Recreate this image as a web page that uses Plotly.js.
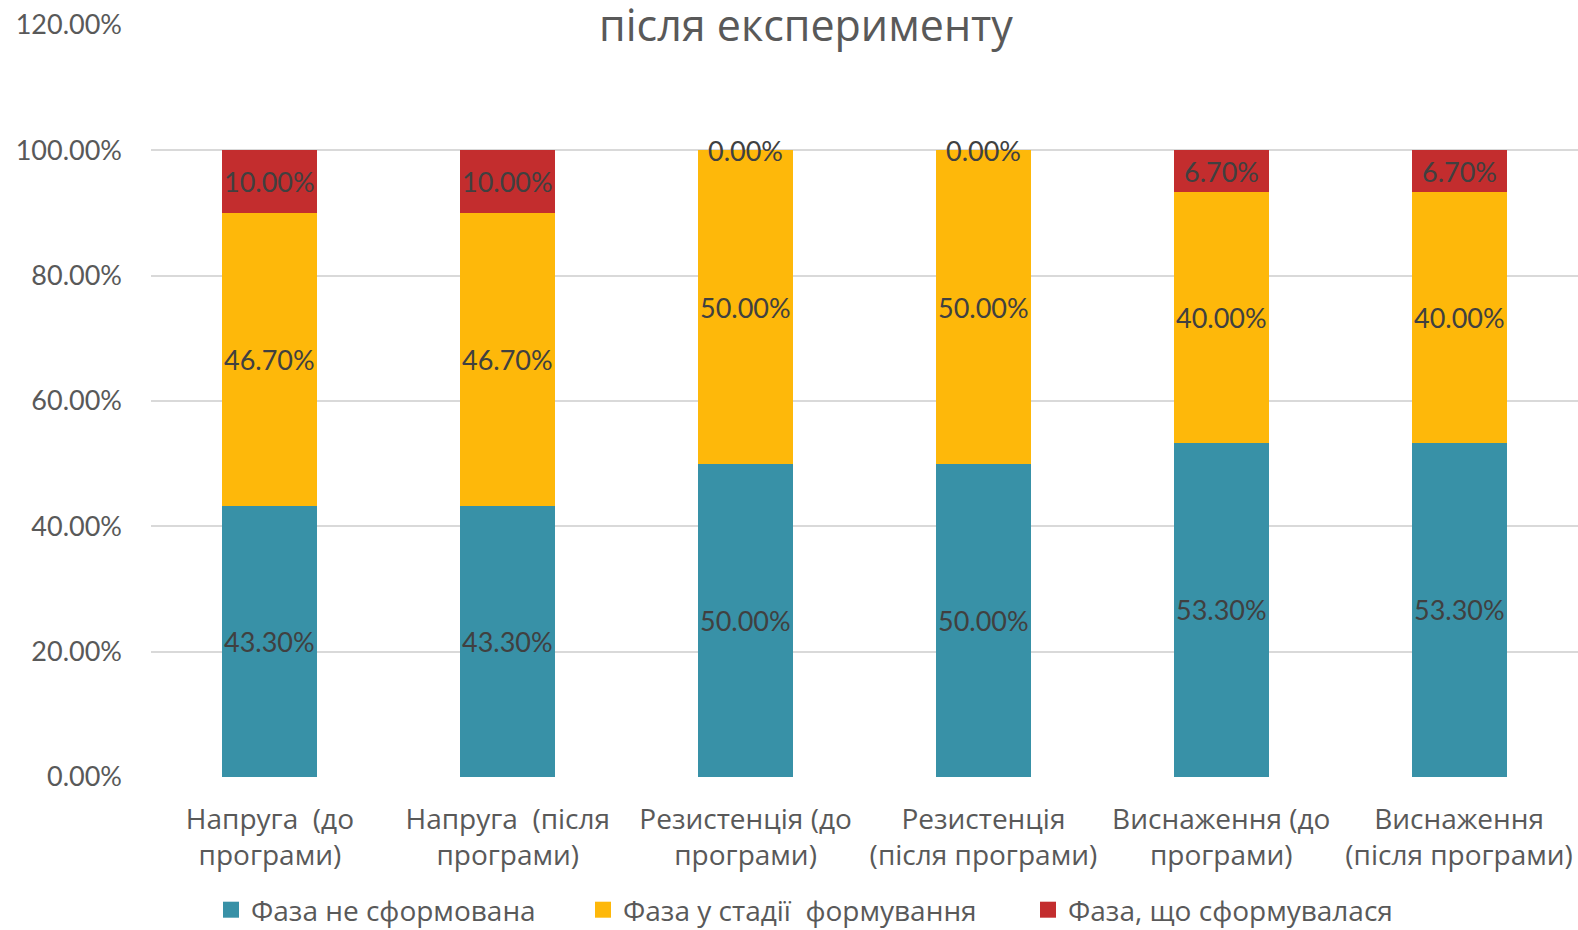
<!DOCTYPE html>
<html>
<head>
<meta charset="utf-8">
<script src="https://cdn.plot.ly/plotly-3.0.1.min.js"></script>
<style>html,body{margin:0;padding:0;background:#fff;}#chart{width:1578px;height:930px;}</style>
</head>
<body>
<div id="chart"></div>
<script>
const categories = [
  "Напруга  (до<br>програми)",
  "Напруга  (після<br>програми)",
  "Резистенція (до<br>програми)",
  "Резистенція<br>(після програми)",
  "Виснаження (до<br>програми)",
  "Виснаження<br>(після програми)"
];
const seriesNames = ["Фаза не сформована", "Фаза у стадії  формування", "Фаза, що сформувалася"];
const notFormed = [0.433, 0.433, 0.50, 0.50, 0.533, 0.533];
const forming = [0.467, 0.467, 0.50, 0.50, 0.40, 0.40];
const formed = [0.10, 0.10, 0.0, 0.0, 0.067, 0.067];
const colors = ["#3891A7", "#FEB80A", "#C32D2E"];

const series = [notFormed, forming, formed];
const legendIds = ["legend", "legend2", "legend3"];
const legendTextStart = [252, 624, 1069];
const traces = [];
const annotations = [];
const base = categories.map(() => 0);
series.forEach((vals, i) => {
  traces.push({
    type: "bar", x: categories, y: vals, name: seriesNames[i],
    marker: {color: colors[i]}, hoverinfo: "skip", showlegend: false
  });
  vals.forEach((v, j) => {
    annotations.push({
      x: categories[j], y: base[j] + v / 2, xref: "x", yref: "y",
      text: (v * 100).toFixed(2) + "%", showarrow: false,
      font: {family: "Lato, sans-serif", size: 27, color: "#404040"}
    });
    base[j] += v;
  });
});
// legend-only entries (no data points drawn)
series.forEach((vals, i) => {
  traces.push({
    type: "scatter", mode: "markers", x: [null], y: [null], name: seriesNames[i],
    marker: {symbol: "square", size: 16, color: colors[i], line: {width: 0}},
    legend: legendIds[i], showlegend: true, hoverinfo: "skip"
  });
});

const legendFont = {family: "Open Sans, sans-serif", size: 28, color: "#595959"};
const layout = {
  width: 1578, height: 930,
  margin: {l: 151, r: 0, t: 25, b: 153},
  paper_bgcolor: "#fff", plot_bgcolor: "#fff",
  barmode: "stack", bargap: 0.6,
  title: {text: "після експерименту", font: {family: "Open Sans, sans-serif", size: 43, color: "#595959"},
          x: 806/1578, xanchor: "center", xref: "container", y: 1 - 26/930, yanchor: "middle", yref: "container"},
  xaxis: {
    showgrid: false, zeroline: false, showline: false, ticks: "",
    tickfont: {family: "Open Sans, sans-serif", size: 28, color: "#595959"},
    ticklabelstandoff: 23
  },
  yaxis: {
    range: [0, 1.2], dtick: 0.2, tickformat: ".2%",
    gridcolor: "#D9D9D9", gridwidth: 2, zeroline: false,
    tickfont: {family: "Lato, sans-serif", size: 27, color: "#595959"},
    ticklabelstandoff: 28, showline: false, ticks: ""
  },
  annotations: annotations,
  showlegend: true
};
legendIds.forEach((id, i) => {
  layout[id] = {
    orientation: "h", x: (legendTextStart[i] - 41) / 1578, xref: "container", xanchor: "left",
    y: (930 - 910) / 930, yref: "container", yanchor: "middle",
    font: legendFont, itemwidth: 30, bgcolor: "rgba(0,0,0,0)"
  };
});
Plotly.newPlot("chart", traces, layout, {staticPlot: true});
</script>
</body>
</html>
